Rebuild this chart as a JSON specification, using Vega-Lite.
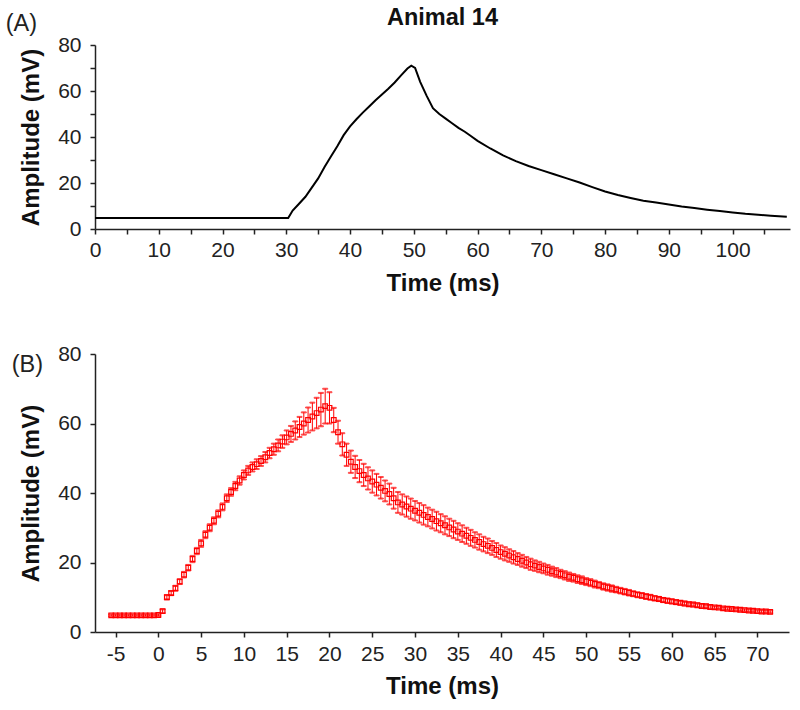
{
  "$schema": "https://vega.github.io/schema/vega-lite/v6.json",
  "padding": {"left": 5, "top": 5, "right": 5, "bottom": 5},
  "background": "white",
  "config": {
    "view": {"stroke": null},
    "font": "Liberation Sans",
    "mark": {"color": "#ff0000"},
    "rule": {"color": "#ff0000", "stroke": "#ff0000"},
    "tick": {"color": "#ff0000", "stroke": "#ff0000"},
    "errorbar": {"color": "#ff0000"},
    "axis": {
      "grid": false,
      "domainColor": "#222",
      "domainWidth": 1.5,
      "tickColor": "#222",
      "tickWidth": 1.5,
      "tickSize": 5,
      "labelFont": "Liberation Sans",
      "labelFontSize": 21,
      "labelColor": "#222",
      "labelFlush": false,
      "labelOverlap": false,
      "titleFont": "Liberation Sans",
      "titleFontSize": 24,
      "titleFontWeight": "bold",
      "titleColor": "#111"
    }
  },
  "title": {"text": "(A)", "anchor": "start", "frame": "bounds", "font": "Liberation Sans", "fontSize": 23.5, "fontWeight": "normal", "color": "#222", "offset": -30, "dx": -6},
  "spacing": 48,
  "vconcat": [
    {
      "width": 695,
      "height": 184,
      "title": {"text": "Animal 14", "anchor": "middle", "font": "Liberation Sans", "fontSize": 23.5, "fontWeight": "bold", "color": "#111", "offset": 5},
      "data": {"values": [
        {"t": 0, "v": 4.8}, {"t": 10, "v": 4.8}, {"t": 20, "v": 4.8}, {"t": 30, "v": 4.8}, {"t": 30.3, "v": 4.8},
        {"t": 31, "v": 8}, {"t": 32, "v": 11}, {"t": 33, "v": 14}, {"t": 34, "v": 18}, {"t": 35, "v": 22},
        {"t": 36, "v": 27}, {"t": 37, "v": 31.5}, {"t": 38, "v": 36}, {"t": 39, "v": 40.8}, {"t": 40, "v": 44.6},
        {"t": 41, "v": 47.7}, {"t": 42, "v": 50.6}, {"t": 43, "v": 53.3}, {"t": 44, "v": 56}, {"t": 45, "v": 58.5},
        {"t": 46, "v": 61}, {"t": 47, "v": 63.7}, {"t": 48, "v": 66.8}, {"t": 49, "v": 69.8}, {"t": 49.6, "v": 71},
        {"t": 50.2, "v": 70}, {"t": 51, "v": 64}, {"t": 52, "v": 58}, {"t": 53, "v": 52.5}, {"t": 54, "v": 50},
        {"t": 55, "v": 48}, {"t": 56, "v": 46}, {"t": 57, "v": 44}, {"t": 58, "v": 42.3}, {"t": 59, "v": 40.3},
        {"t": 60, "v": 38.3}, {"t": 62, "v": 35}, {"t": 64, "v": 32}, {"t": 66, "v": 29.5}, {"t": 68, "v": 27.4},
        {"t": 70, "v": 25.6}, {"t": 72, "v": 23.8}, {"t": 74, "v": 22}, {"t": 76, "v": 20.2}, {"t": 78, "v": 18.2},
        {"t": 80, "v": 16.3}, {"t": 82, "v": 14.8}, {"t": 84, "v": 13.5}, {"t": 86, "v": 12.3}, {"t": 88, "v": 11.5},
        {"t": 90, "v": 10.7}, {"t": 92, "v": 9.8}, {"t": 94, "v": 9.1}, {"t": 96, "v": 8.4}, {"t": 98, "v": 7.8},
        {"t": 100, "v": 7.2}, {"t": 102, "v": 6.6}, {"t": 104, "v": 6.2}, {"t": 106, "v": 5.8}, {"t": 108.5, "v": 5.3}
      ]},
      "mark": {"type": "line", "color": "black", "strokeWidth": 2},
      "encoding": {
        "x": {
          "field": "t", "type": "quantitative",
          "scale": {"domain": [0, 109], "nice": false, "zero": false},
          "axis": {
            "values": [0, 5, 10, 15, 20, 25, 30, 35, 40, 45, 50, 55, 60, 65, 70, 75, 80, 85, 90, 95, 100, 105],
            "labelExpr": "datum.value % 10 === 0 ? '' + datum.value : ''",
            "title": "Time (ms)", "labelPadding": 5, "titlePadding": 11
          }
        },
        "y": {
          "field": "v", "type": "quantitative",
          "scale": {"domain": [0, 80], "nice": false},
          "axis": {
            "values": [0, 10, 20, 30, 40, 50, 60, 70, 80],
            "labelExpr": "datum.value % 20 === 0 ? '' + datum.value : ''",
            "title": "Amplitude (mV)", "labelPadding": 9, "titlePadding": 14
          }
        }
      }
    },
    {
      "width": 694,
      "height": 278,
      "title": {"text": "(B)", "anchor": "start", "frame": "bounds", "font": "Liberation Sans", "fontSize": 23.5, "fontWeight": "normal", "color": "#222", "offset": -33, "dx": -8},
      "data": {"values": [
        {"t": -5.5, "m": 4.8, "e": 0.3}, {"t": -5, "m": 4.8, "e": 0.3}, {"t": -4.5, "m": 4.8, "e": 0.3}, {"t": -4, "m": 4.8, "e": 0.3},
        {"t": -3.5, "m": 4.8, "e": 0.3}, {"t": -3, "m": 4.8, "e": 0.3}, {"t": -2.5, "m": 4.8, "e": 0.3}, {"t": -2, "m": 4.8, "e": 0.3},
        {"t": -1.5, "m": 4.8, "e": 0.3}, {"t": -1, "m": 4.8, "e": 0.3}, {"t": -0.5, "m": 4.8, "e": 0.3}, {"t": 0, "m": 4.9, "e": 0.3},
        {"t": 0.5, "m": 6.0, "e": 0.5}, {"t": 1, "m": 10.0, "e": 0.6}, {"t": 1.5, "m": 11.2, "e": 0.6}, {"t": 2, "m": 12.6, "e": 0.7},
        {"t": 2.5, "m": 14.5, "e": 0.7}, {"t": 3, "m": 16.5, "e": 0.8}, {"t": 3.5, "m": 18.5, "e": 0.8}, {"t": 4, "m": 21.0, "e": 0.9},
        {"t": 4.5, "m": 23.3, "e": 0.9}, {"t": 5, "m": 25.5, "e": 1.0}, {"t": 5.5, "m": 28.0, "e": 1.0}, {"t": 6, "m": 30.0, "e": 1.0},
        {"t": 6.5, "m": 32.0, "e": 1.0}, {"t": 7, "m": 34.0, "e": 1.0}, {"t": 7.5, "m": 36.0, "e": 1.0}, {"t": 8, "m": 38.5, "e": 1.1},
        {"t": 8.5, "m": 40.3, "e": 1.1}, {"t": 9, "m": 42.0, "e": 1.2}, {"t": 9.5, "m": 43.6, "e": 1.2}, {"t": 10, "m": 45.2, "e": 1.3},
        {"t": 10.5, "m": 46.5, "e": 1.3}, {"t": 11, "m": 47.5, "e": 1.3}, {"t": 11.5, "m": 48.3, "e": 1.4}, {"t": 12, "m": 49.2, "e": 1.4},
        {"t": 12.5, "m": 50.3, "e": 1.5}, {"t": 13, "m": 51.5, "e": 1.5}, {"t": 13.5, "m": 52.6, "e": 1.6}, {"t": 14, "m": 53.7, "e": 1.7},
        {"t": 14.5, "m": 54.8, "e": 1.8}, {"t": 15, "m": 56.0, "e": 2.0}, {"t": 15.5, "m": 57.0, "e": 2.3}, {"t": 16, "m": 58.0, "e": 2.6},
        {"t": 16.5, "m": 59.0, "e": 2.9}, {"t": 17, "m": 60.0, "e": 3.2}, {"t": 17.5, "m": 61.0, "e": 3.6}, {"t": 18, "m": 62.0, "e": 4.0},
        {"t": 18.5, "m": 63.0, "e": 4.4}, {"t": 19, "m": 64.0, "e": 4.8}, {"t": 19.5, "m": 65.0, "e": 5.0}, {"t": 20, "m": 64.5, "e": 4.5},
        {"t": 20.5, "m": 61.0, "e": 3.5}, {"t": 21, "m": 57.5, "e": 3.3}, {"t": 21.5, "m": 54.0, "e": 3.2}, {"t": 22, "m": 51.0, "e": 3.2},
        {"t": 22.5, "m": 49.0, "e": 3.2}, {"t": 23, "m": 47.5, "e": 3.2}, {"t": 23.5, "m": 46.3, "e": 3.2}, {"t": 24, "m": 45.2, "e": 3.2},
        {"t": 24.5, "m": 44.2, "e": 3.2}, {"t": 25, "m": 43.3, "e": 3.2}, {"t": 25.5, "m": 42.4, "e": 3.1}, {"t": 26, "m": 41.5, "e": 3.1},
        {"t": 26.5, "m": 40.6, "e": 3.0}, {"t": 27, "m": 39.7, "e": 3.0}, {"t": 27.5, "m": 38.5, "e": 3.0}, {"t": 28, "m": 37.3, "e": 3.0},
        {"t": 28.5, "m": 36.7, "e": 2.9}, {"t": 29, "m": 36.1, "e": 2.9}, {"t": 29.5, "m": 35.5, "e": 2.9}, {"t": 30, "m": 34.9, "e": 2.8},
        {"t": 30.5, "m": 34.3, "e": 2.8}, {"t": 31, "m": 33.7, "e": 2.8}, {"t": 31.5, "m": 33.1, "e": 2.7}, {"t": 32, "m": 32.5, "e": 2.7},
        {"t": 32.5, "m": 31.9, "e": 2.7}, {"t": 33, "m": 31.3, "e": 2.6}, {"t": 33.5, "m": 30.7, "e": 2.6}, {"t": 34, "m": 30.1, "e": 2.5},
        {"t": 34.5, "m": 29.5, "e": 2.5}, {"t": 35, "m": 28.9, "e": 2.4}, {"t": 35.5, "m": 28.3, "e": 2.4}, {"t": 36, "m": 27.7, "e": 2.3},
        {"t": 36.5, "m": 27.1, "e": 2.3}, {"t": 37, "m": 26.5, "e": 2.2}, {"t": 37.5, "m": 25.9, "e": 2.2}, {"t": 38, "m": 25.3, "e": 2.1},
        {"t": 38.5, "m": 24.8, "e": 2.1}, {"t": 39, "m": 24.2, "e": 2.0}, {"t": 39.5, "m": 23.6, "e": 2.0}, {"t": 40, "m": 23.0, "e": 1.9},
        {"t": 40.5, "m": 22.5, "e": 1.9}, {"t": 41, "m": 22.0, "e": 1.8}, {"t": 41.5, "m": 21.5, "e": 1.8}, {"t": 42, "m": 21.0, "e": 1.7},
        {"t": 42.5, "m": 20.5, "e": 1.7}, {"t": 43, "m": 20.0, "e": 1.6}, {"t": 43.5, "m": 19.5, "e": 1.6}, {"t": 44, "m": 19.1, "e": 1.5},
        {"t": 44.5, "m": 18.7, "e": 1.5}, {"t": 45, "m": 18.3, "e": 1.4}, {"t": 45.5, "m": 17.9, "e": 1.4}, {"t": 46, "m": 17.5, "e": 1.3},
        {"t": 46.5, "m": 17.1, "e": 1.3}, {"t": 47, "m": 16.7, "e": 1.2}, {"t": 47.5, "m": 16.3, "e": 1.2}, {"t": 48, "m": 15.9, "e": 1.2},
        {"t": 48.5, "m": 15.6, "e": 1.1}, {"t": 49, "m": 15.2, "e": 1.1}, {"t": 49.5, "m": 14.9, "e": 1.1}, {"t": 50, "m": 14.5, "e": 1.0},
        {"t": 50.5, "m": 14.2, "e": 1.0}, {"t": 51, "m": 13.8, "e": 1.0}, {"t": 51.5, "m": 13.5, "e": 0.9}, {"t": 52, "m": 13.1, "e": 0.9},
        {"t": 52.5, "m": 12.8, "e": 0.9}, {"t": 53, "m": 12.5, "e": 0.9}, {"t": 53.5, "m": 12.2, "e": 0.8}, {"t": 54, "m": 11.9, "e": 0.8},
        {"t": 54.5, "m": 11.6, "e": 0.8}, {"t": 55, "m": 11.3, "e": 0.8}, {"t": 55.5, "m": 11.0, "e": 0.7}, {"t": 56, "m": 10.7, "e": 0.7},
        {"t": 56.5, "m": 10.5, "e": 0.7}, {"t": 57, "m": 10.2, "e": 0.7}, {"t": 57.5, "m": 10.0, "e": 0.7}, {"t": 58, "m": 9.7, "e": 0.6},
        {"t": 58.5, "m": 9.5, "e": 0.6}, {"t": 59, "m": 9.2, "e": 0.6}, {"t": 59.5, "m": 9.0, "e": 0.6}, {"t": 60, "m": 8.8, "e": 0.6},
        {"t": 60.5, "m": 8.6, "e": 0.6}, {"t": 61, "m": 8.4, "e": 0.5}, {"t": 61.5, "m": 8.2, "e": 0.5}, {"t": 62, "m": 8.0, "e": 0.5},
        {"t": 62.5, "m": 7.9, "e": 0.5}, {"t": 63, "m": 7.7, "e": 0.5}, {"t": 63.5, "m": 7.5, "e": 0.5}, {"t": 64, "m": 7.4, "e": 0.5},
        {"t": 64.5, "m": 7.2, "e": 0.5}, {"t": 65, "m": 7.1, "e": 0.4}, {"t": 65.5, "m": 7.0, "e": 0.4}, {"t": 66, "m": 6.8, "e": 0.4},
        {"t": 66.5, "m": 6.7, "e": 0.4}, {"t": 67, "m": 6.6, "e": 0.4}, {"t": 67.5, "m": 6.5, "e": 0.4}, {"t": 68, "m": 6.4, "e": 0.4},
        {"t": 68.5, "m": 6.3, "e": 0.4}, {"t": 69, "m": 6.2, "e": 0.4}, {"t": 69.5, "m": 6.1, "e": 0.4}, {"t": 70, "m": 6.0, "e": 0.4},
        {"t": 70.5, "m": 5.9, "e": 0.4}, {"t": 71, "m": 5.9, "e": 0.4}, {"t": 71.5, "m": 5.8, "e": 0.4}
      ]},
      "encoding": {
        "x": {
          "field": "t", "type": "quantitative",
          "scale": {"domain": [-7.4, 73.7], "nice": false, "zero": false},
          "axis": {
            "values": [-5, 0, 5, 10, 15, 20, 25, 30, 35, 40, 45, 50, 55, 60, 65, 70],
            "labelExpr": "'' + datum.value",
            "title": "Time (ms)", "labelPadding": 6, "titlePadding": 10
          }
        }
      },
      "layer": [
        {
          "mark": {"type": "errorbar", "color": "#ff0000", "thickness": 1, "rule": {"stroke": "#ff0000", "color": "#ff0000"}, "ticks": {"size": 5, "thickness": 1, "stroke": "#ff0000", "color": "#ff0000"}},
          "encoding": {
            "y": {"field": "m", "type": "quantitative", "scale": {"domain": [0, 80], "nice": false},
              "axis": {"values": [0, 20, 40, 60, 80], "title": "Amplitude (mV)", "labelPadding": 9, "titlePadding": 14}},
            "yError": {"field": "e"}
          }
        },
        {
          "mark": {"type": "point", "shape": "square", "filled": false, "color": "#ff0000", "size": 22, "strokeWidth": 1.2, "opacity": 1},
          "encoding": {
            "y": {"field": "m", "type": "quantitative"}
          }
        }
      ]
    }
  ]
}
